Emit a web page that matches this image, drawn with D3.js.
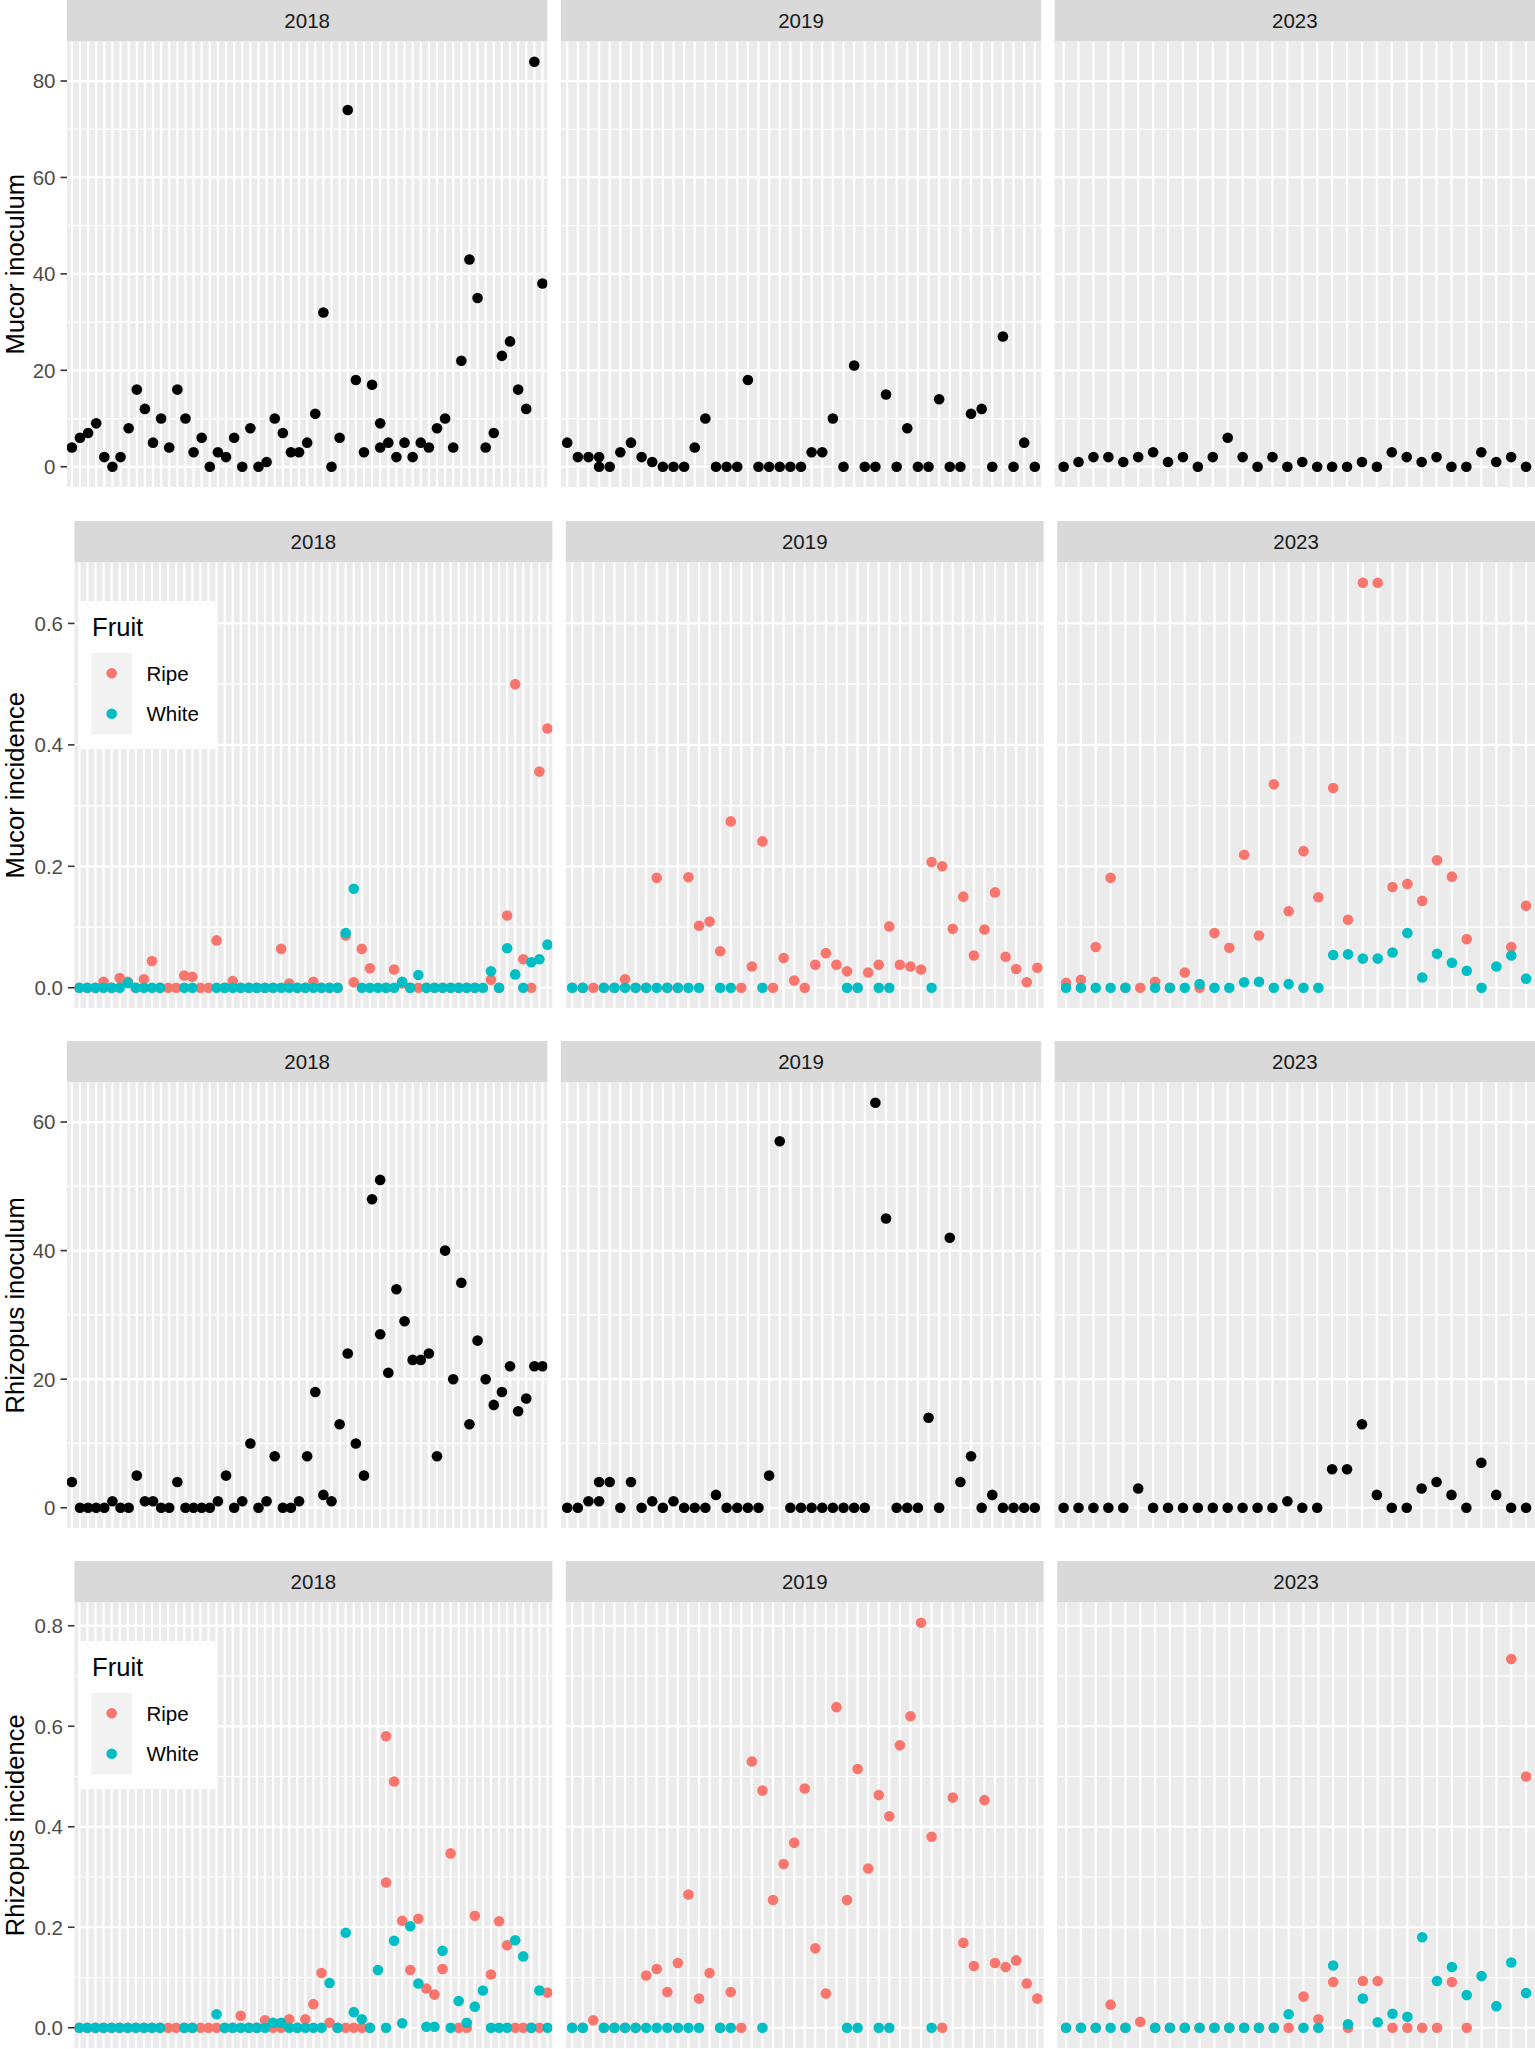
<!DOCTYPE html>
<html><head><meta charset="utf-8">
<script src="https://cdn.jsdelivr.net/npm/d3@7"></script>
<style>body{margin:0;background:#fff;} svg{display:block;font-family:"Liberation Sans",Arial,sans-serif;}</style>
</head><body><svg id="chart" width="1535" height="2049"></svg>
<script>
// ---------- categories (sampling occasions per year) ----------
const years = ["2018", "2019", "2023"];
const nOccasions = {"2018": 59, "2019": 45, "2023": 32};

// ---------- Mucor inoculum ----------
const mucorInoc2018 = [4,6,7,9,2,0,2,8,16,12, 5,10,4,16,10,3,6,0,3,2, 6,0,8,0,1,10,7,3,3,5, 11,32,0,6,74,18,3,17,9,5, 2,5,2,5,4,8,10,4,22,43, 35,4,7,23,26,16,12,84,38];
const mucorInoc2018Extra = [[39, 4]];
const mucorInoc2019 = [5,2,2,2,0,3,5,2,1,0, 0,0,4,10,0,0,0,18,0,0, 0,0,0,3,3,10,0,21,0,0, 15,0,8,0,0,14,0,0,11,12, 0,27,0,5,0];
const mucorInoc2019Extra = [[4, 0]];
const mucorInoc2023 = [0,1,2,2,1,2,3,1,2,0, 2,6,2,0,2,0,1,0,0,0, 1,0,3,2,1,2,0,0,3,1, 2,0];

// ---------- Mucor incidence ----------
const mucorIncRipe2018 = [0,0,0,.01,0,.016,.01,0,.014,.044, 0,0,0,.02,.018,0,0,.078,0,.011, 0,0,0,0,0,.064,.007,0,0,.01, 0,0,0,.086,.009,.064,.032,null,0,.03, .007,0,0,0,0,0,0,0,0,0, null,.013,0,.119,.5,.047,0,.356,.427];
const mucorIncWhite2018 = [0,0,0,0,0,0,.008,0,0,0, 0,null,null,0,0,null,null,0,0,0, 0,0,0,0,0,0,0,0,0,0, 0,0,0,.09,.163,0,0,0,0,0, .01,0,.021,0,0,0,0,0,0,0, 0,.027,0,.065,.022,0,.042,.047,.071];
const mucorIncRipe2019 = [0,0,0,0,0,.014,0,0,.181,0, 0,.182,.102,.109,.06,.274,0,.035,.241,0, .049,.012,0,.038,.057,.038,.027,0,.025,.038, .101,.038,.035,.03,.207,.2,.097,.15,.053,.096, .157,.051,.031,.009,.033];
const mucorIncWhite2019 = [0,0,null,0,0,0,0,0,0,0, 0,0,0,null,0,0,null,null,0,null, null,null,null,null,null,null,0,0,null,0, 0,null,null,null,0,null,null,null,null,null, null,null,null,null,null];
const mucorIncRipe2023 = [.008,.013,.067,.181,0,0,.01,0,.025,0, .09,.066,.219,.086,.335,.126,.225,.149,.329,.112, .667,.667,.166,.171,.143,.21,.183,.08,null,null, .067,.135];
const mucorIncWhite2023 = [0,0,0,0,0,null,0,0,0,.006, 0,0,.009,.01,0,.006,0,0,.054,.055, .048,.048,.058,.09,.017,.056,.041,.028,0,.035, .053,.015];

// ---------- Rhizopus inoculum ----------
const rhizInoc2018 = [4,0,0,0,0,1,0,0,5,1, 1,0,0,4,0,0,0,0,1,5, 0,1,10,0,1,8,0,0,1,8, 18,2,1,13,24,10,5,48,51,21, 34,29,23,23,24,8,40,20,35,13, 26,20,16,18,22,15,17,22,22];
const rhizInoc2018Extra = [[39, 27]];
const rhizInoc2019 = [0,0,1,1,4,0,4,0,1,0, 1,0,0,0,2,0,0,0,0,5, 57,0,0,0,0,0,0,0,0,63, 45,0,0,0,14,0,42,4,8,0, 2,0,0,0,0];
const rhizInoc2019Extra = [[4, 4]];
const rhizInoc2023 = [0,0,0,0,0,3,0,0,0,0, 0,0,0,0,0,1,0,0,6,6, 13,2,0,0,3,4,2,0,7,2, 0,0];

// ---------- Rhizopus incidence ----------
const rhizIncRipe2018 = [0,0,0,0,0,0,0,0,0,0, 0,0,0,0,0,0,0,0,0,0, .024,0,0,.015,0,0,.017,0,.017,.047, .109,.01,0,0,0,0,0,null,.58,.49, .213,.115,.217,.078,.066,.117,.347,0,0,.223, null,.106,.212,.164,0,0,0,0,.07];
const rhizIncRipe2018Extra = [[39, .289]];
const rhizIncWhite2018 = [0,0,0,0,0,0,0,0,0,0, 0,null,null,0,0,null,null,.027,0,0, 0,0,0,0,.01,.01,0,0,0,0, 0,.089,0,.189,.031,.017,0,.115,0,.173, .009,.202,.088,.002,.002,.153,0,.053,.01,.042, .074,0,0,0,.174,.142,0,.074,0];
const rhizIncRipe2019 = [0,0,.015,0,0,0,0,.104,.117,.071, .129,.265,.058,.109,0,.071,0,.53,.472,.254, .326,.368,.476,.158,.068,.638,.254,.515,.317,.463, .421,.562,.62,.806,.38,0,.458,.169,.123,.453, .129,.121,.134,.088,.058];
const rhizIncWhite2019 = [0,0,null,0,0,0,0,0,0,0, 0,0,0,null,0,0,null,null,0,null, null,null,null,null,null,null,0,0,null,0, 0,null,null,null,0,null,null,null,null,null, null,null,null,null,null];
const rhizIncRipe2023 = [0,0,0,.046,0,.012,0,0,0,0, 0,0,0,0,0,0,.062,.017,.091,0, .093,.093,0,0,0,0,.091,0,null,null, .734,.5];
const rhizIncWhite2023 = [0,0,0,0,0,null,0,0,0,0, 0,0,0,0,0,.027,0,0,.124,.007, .058,.011,.028,.022,.18,.093,.121,.065,.103,.043, .13,.069];

const fruitLevels = ["Ripe", "White"];
const fruitColors = {"Ripe": "#F8766D", "White": "#00BFC4"};

// ---------- row definitions ----------
const rows = [
  {title: "Mucor inoculum", top: 0, left: 67, breaks: [0,20,40,60,80], fmt: d3.format("d"), legend: false,
   series: {"2018": [{v: mucorInoc2018, x: mucorInoc2018Extra, c: "#000"}],
            "2019": [{v: mucorInoc2019, x: mucorInoc2019Extra, c: "#000"}],
            "2023": [{v: mucorInoc2023, x: [], c: "#000"}]}},
  {title: "Mucor incidence", top: 521, left: 74.5, breaks: [0,.2,.4,.6], fmt: d3.format(".1f"), legend: true,
   series: {"2018": [{v: mucorIncRipe2018, x: [], c: fruitColors.Ripe}, {v: mucorIncWhite2018, x: [], c: fruitColors.White}],
            "2019": [{v: mucorIncRipe2019, x: [], c: fruitColors.Ripe}, {v: mucorIncWhite2019, x: [], c: fruitColors.White}],
            "2023": [{v: mucorIncRipe2023, x: [], c: fruitColors.Ripe}, {v: mucorIncWhite2023, x: [], c: fruitColors.White}]}},
  {title: "Rhizopus inoculum", top: 1041, left: 67, breaks: [0,20,40,60], fmt: d3.format("d"), legend: false,
   series: {"2018": [{v: rhizInoc2018, x: rhizInoc2018Extra, c: "#000"}],
            "2019": [{v: rhizInoc2019, x: rhizInoc2019Extra, c: "#000"}],
            "2023": [{v: rhizInoc2023, x: [], c: "#000"}]}},
  {title: "Rhizopus incidence", top: 1561, left: 74.5, breaks: [0,.2,.4,.6,.8], fmt: d3.format(".1f"), legend: true,
   series: {"2018": [{v: rhizIncRipe2018, x: rhizIncRipe2018Extra, c: fruitColors.Ripe}, {v: rhizIncWhite2018, x: [], c: fruitColors.White}],
            "2019": [{v: rhizIncRipe2019, x: [], c: fruitColors.Ripe}, {v: rhizIncWhite2019, x: [], c: fruitColors.White}],
            "2023": [{v: rhizIncRipe2023, x: [], c: fruitColors.Ripe}, {v: rhizIncWhite2023, x: [], c: fruitColors.White}]}}
];

const svg = d3.select("#chart");
const W_TOTAL = 1535, GAP = 13.5, STRIP_H = 41.5, PANEL_H = 445.5, R = 5.3;
const MAJOR_W = 2.2, MINOR_W = 1.2;

rows.forEach(row => {
  const g = svg.append("g");
  const pw = (W_TOTAL - row.left - 2 * GAP) / 3;
  const pTop = row.top + STRIP_H, pBot = pTop + PANEL_H;
  // y domain with ggplot-like 5% expansion
  let ymax = 0;
  years.forEach(yr => row.series[yr].forEach(s => {
    s.v.forEach(d => { if (d != null) ymax = Math.max(ymax, d); });
    s.x.forEach(d => { ymax = Math.max(ymax, d[1]); });
  }));
  const y = d3.scaleLinear().domain([-0.05 * ymax, 1.05 * ymax]).range([pBot, pTop]);
  const step = row.breaks[1] - row.breaks[0];
  const minor = [];
  for (let i = -1; i <= row.breaks.length; i++) {
    const m = row.breaks[0] + step * (i + 0.5);
    if (m > y.domain()[0] && m < y.domain()[1] - step * 0.05) minor.push(m);
  }

  years.forEach((yr, pi) => {
    const x0 = row.left + pi * (pw + GAP), x1 = x0 + pw;
    const cats = d3.range(1, nOccasions[yr] + 1).map(String);
    const x = d3.scalePoint().domain(cats).range([x0, x1]).padding(0.6);
    const clipId = `clip-${row.top}-${yr}`;
    g.append("clipPath").attr("id", clipId).append("rect")
      .attr("x", x0).attr("y", pTop).attr("width", pw).attr("height", PANEL_H);
    // strip
    g.append("rect").attr("x", x0).attr("y", row.top).attr("width", pw).attr("height", STRIP_H).attr("fill", "#D9D9D9");
    g.append("text").attr("x", (x0 + x1) / 2).attr("y", row.top + STRIP_H / 2).attr("dy", "0.36em")
      .attr("text-anchor", "middle").attr("font-size", 20.5).attr("fill", "#1A1A1A").text(yr);
    // panel
    g.append("rect").attr("x", x0).attr("y", pTop).attr("width", pw).attr("height", PANEL_H).attr("fill", "#EBEBEB");
    const grid = g.append("g").attr("clip-path", `url(#${clipId})`);
    grid.selectAll(".mn").data(minor).enter().append("line")
      .attr("x1", x0).attr("x2", x1).attr("y1", d => y(d)).attr("y2", d => y(d))
      .attr("stroke", "#fff").attr("stroke-width", MINOR_W);
    grid.selectAll(".mj").data(row.breaks).enter().append("line")
      .attr("x1", x0).attr("x2", x1).attr("y1", d => y(d)).attr("y2", d => y(d))
      .attr("stroke", "#fff").attr("stroke-width", MAJOR_W);
    grid.selectAll(".vx").data(cats).enter().append("line")
      .attr("x1", d => x(d)).attr("x2", d => x(d)).attr("y1", pTop).attr("y2", pBot)
      .attr("stroke", "#fff").attr("stroke-width", MAJOR_W);
    // points (ripe first, white on top)
    const pts = grid.append("g");
    row.series[yr].forEach(s => {
      const data = [];
      s.v.forEach((d, i) => { if (d != null) data.push([String(i + 1), d]); });
      s.x.forEach(d => data.push([String(d[0]), d[1]]));
      pts.selectAll(null).data(data).enter().append("circle")
        .attr("cx", d => x(d[0])).attr("cy", d => y(d[1])).attr("r", R).attr("fill", s.c);
    });
    // y axis on first panel
    if (pi === 0) {
      const ax = g.append("g");
      ax.selectAll(null).data(row.breaks).enter().append("line")
        .attr("x1", x0 - 6.5).attr("x2", x0).attr("y1", d => y(d)).attr("y2", d => y(d))
        .attr("stroke", "#333333").attr("stroke-width", 1.6);
      ax.selectAll(null).data(row.breaks).enter().append("text")
        .attr("x", x0 - 11.5).attr("y", d => y(d)).attr("dy", "0.36em").attr("text-anchor", "end")
        .attr("font-size", 20.5).attr("fill", "#4D4D4D").text(d => row.fmt(d));
      const cy = (pTop + pBot) / 2;
      g.append("text").attr("transform", `translate(24,${cy}) rotate(-90)`)
        .attr("text-anchor", "middle").attr("font-size", 25.6).attr("fill", "#000").text(row.title);
    }
  });

  if (row.legend) {
    const L = g.append("g");
    const t = row.top;
    L.append("rect").attr("x", 78).attr("y", t + 80).attr("width", 138).attr("height", 148).attr("fill", "#fff");
    L.append("text").attr("x", 92).attr("y", t + 115).attr("font-size", 25.6).attr("fill", "#000").text("Fruit");
    L.append("rect").attr("x", 91.4).attr("y", t + 132).attr("width", 40.5).attr("height", 81).attr("fill", "#F2F2F2");
    fruitLevels.forEach((f, i) => {
      const cy = t + 152.3 + i * 40.5;
      L.append("circle").attr("cx", 111.7).attr("cy", cy).attr("r", R).attr("fill", fruitColors[f]);
      L.append("text").attr("x", 146.4).attr("y", cy).attr("dy", "0.36em").attr("font-size", 20.5).attr("fill", "#000").text(f);
    });
  }
});
</script></body></html>
